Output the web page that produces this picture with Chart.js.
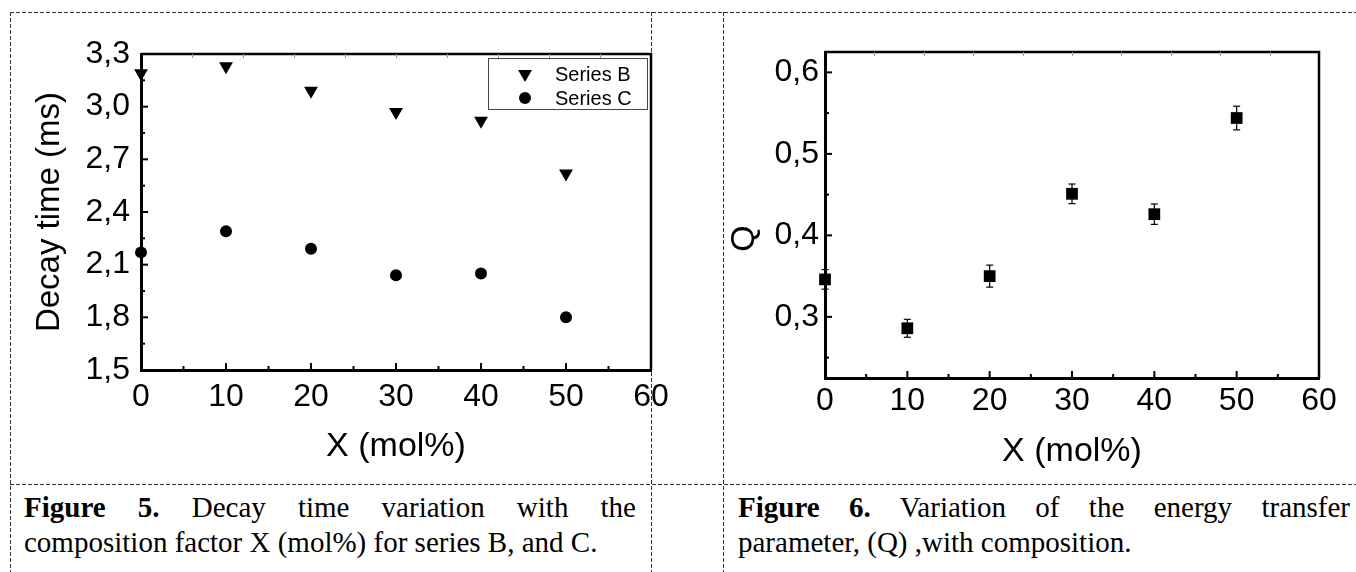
<!DOCTYPE html>
<html><head><meta charset="utf-8">
<script src="https://cdn.jsdelivr.net/npm/chart.js@4"></script>
<style>
body{margin:0;background:#fff;width:1356px;height:572px;overflow:hidden;position:relative;}
.h,.v{position:absolute;z-index:0;}
.h{height:1px;background:repeating-linear-gradient(to right,#333 0 4px,transparent 4px 6px);}
.v{width:1px;background:repeating-linear-gradient(to bottom,#333 0 4px,transparent 4px 6px);}
canvas{position:absolute;top:0;z-index:1;}
.cap{position:absolute;font-family:"Liberation Serif","Times New Roman",serif;font-size:29px;line-height:35px;color:#000;z-index:2;}
.cap .l1{text-align:justify;text-align-last:justify;}
</style></head><body>
<div class="h" style="left:10px;top:12px;width:1346px"></div>
<div class="h" style="left:10px;top:484px;width:1346px"></div>
<div class="v" style="left:10px;top:12px;height:560px"></div>
<div class="v" style="left:651px;top:12px;height:560px"></div>
<div class="v" style="left:723px;top:12px;height:560px"></div>
<canvas id="c1" width="720" height="480" style="left:0"></canvas>
<canvas id="c2" width="633" height="480" style="left:723px"></canvas>
<div class="cap" style="left:24px;top:490px;width:612px"><div class="l1"><b>Figure 5.</b> Decay time variation with the</div><div>composition factor X (mol%) for series B, and C.</div></div>
<div class="cap" style="left:738px;top:490px;width:612px"><div class="l1"><b>Figure 6.</b> Variation of the energy transfer</div><div>parameter, (Q) ,with composition.</div></div>
<script>
// ---- data ----
const xValues = [0, 10, 20, 30, 40, 50];
const seriesB = [3.19, 3.23, 3.09, 2.97, 2.92, 2.62];
const seriesC = [2.17, 2.29, 2.19, 2.04, 2.05, 1.80];
const qValues = [0.346, 0.286, 0.350, 0.451, 0.426, 0.544];
const qErrors = [0.012, 0.011, 0.0135, 0.012, 0.0125, 0.0145];
const xTicks = [0, 10, 20, 30, 40, 50, 60];
const yTicksLeft = [1.5, 1.8, 2.1, 2.4, 2.7, 3.0, 3.3];
const yTicksRight = [0.3, 0.4, 0.5, 0.6];
const topTicks = [6, 12, 18, 24, 30, 36, 42, 48, 54];

const SANS = "'Liberation Sans', Arial, sans-serif";
const comma = v => Number(v).toFixed(1).replace('.', ',');
const pts = (ys) => xValues.map((x, i) => ({x, y: ys[i]}));

function minorsOf(list, min, max) {
  const step = list[1] - list[0];
  const out = [];
  list.forEach(v => {
    [v - step / 2, v + step / 2].forEach(m => {
      if (m > min && m < max && !out.some(o => Math.abs(o - m) < 1e-9)) out.push(m);
    });
  });
  return out;
}

// frame, inward ticks, top-axis ticks, error bars
const framePlugin = {
  id: 'frameTicks',
  beforeDatasetsDraw(chart, args, o) {
    const {ctx, chartArea: a, scales: {x, y}} = chart;
    const line = (x1, y1, x2, y2) => { ctx.beginPath(); ctx.moveTo(x1, y1); ctx.lineTo(x2, y2); ctx.stroke(); };
    ctx.save();
    ctx.strokeStyle = '#000';
    ctx.lineWidth = 2.5;
    ctx.beginPath(); ctx.moveTo(a.left, a.top); ctx.lineTo(a.right, a.top); ctx.lineTo(a.right, a.bottom); ctx.stroke();
    ctx.lineWidth = 2;
    const xs = x.ticks.map(t => t.value), ys = y.ticks.map(t => t.value);
    xs.forEach(v => { const p = x.getPixelForValue(v); line(p, a.bottom, p, a.bottom - 7); });
    minorsOf(xs, x.min, x.max).forEach(v => { const p = x.getPixelForValue(v); line(p, a.bottom, p, a.bottom - 4); });
    ys.forEach(v => { const p = y.getPixelForValue(v); line(a.left, p, a.left + 7, p); });
    minorsOf(ys, y.min, y.max).forEach(v => { const p = y.getPixelForValue(v); line(a.left, p, a.left + 4, p); });
    ctx.strokeStyle = '#999'; ctx.lineWidth = 1;
    topTicks.forEach(v => { const p = Math.round(x.getPixelForValue(v)) + 0.5; line(p, a.top, p, a.top + 4); });
    // error bars
    ctx.strokeStyle = '#000'; ctx.lineWidth = 1.2;
    chart.data.datasets.forEach((ds, i) => {
      if (!ds.errorBars) return;
      const meta = chart.getDatasetMeta(i);
      meta.data.forEach((el, j) => {
        const v = ds.data[j].y, e = ds.errorBars[j];
        const px = el.x, t = y.getPixelForValue(v + e), b = y.getPixelForValue(v - e);
        line(px, t, px, b);
        line(px - 3.5, t, px + 3.5, t);
        line(px - 3.5, b, px + 3.5, b);
      });
    });
    ctx.restore();
  }
};

// boxed legend inside the plot, top right
const boxLegend = {
  id: 'boxLegend',
  afterDatasetsDraw(chart, args, o) {
    if (!o || !o.show) return;
    const {ctx, chartArea: a} = chart;
    const w = 159, h = 51, left = a.right - 4 - w, top = a.top + 4;
    ctx.save();
    ctx.fillStyle = '#fff';
    ctx.fillRect(left, top, w, h);
    ctx.strokeStyle = '#444'; ctx.lineWidth = 1;
    ctx.strokeRect(Math.round(left) + 0.5, Math.round(top) + 0.5, w, h);
    chart.data.datasets.forEach((ds, i) => {
      const cy = top + 16 + i * 24;
      ctx.fillStyle = ds.backgroundColor; ctx.strokeStyle = ds.borderColor;
      Chart.helpers.drawPoint(ctx, {pointStyle: ds.pointStyle, rotation: ds.pointRotation || 0, radius: ds.pointRadius, borderWidth: 0}, left + 37, cy);
      ctx.fillStyle = '#000';
      ctx.font = '20px ' + SANS;
      ctx.textBaseline = 'middle'; ctx.textAlign = 'left';
      ctx.fillText(ds.label, left + 67, cy + 1);
    });
    ctx.restore();
  }
};

function axisX(pad, titlePad, h) {
  return {
    type: 'linear', min: 0, max: 60,
    afterBuildTicks: s => { s.ticks = xTicks.map(v => ({value: v})); },
    afterFit: s => { s.height = h; s.paddingLeft = 0; s.paddingRight = 0; },
    ticks: {font: {family: SANS, size: 32}, color: '#000', padding: pad, autoSkip: false, maxRotation: 0, callback: v => String(v)},
    grid: {display: true, drawOnChartArea: false, drawTicks: false},
    border: {display: true, width: 3, color: '#000'},
    title: {display: true, text: 'X (mol%)', color: '#000', font: {family: SANS, size: 34}, padding: {top: 0, bottom: titlePad}}
  };
}

Chart.defaults.animation = false;

new Chart(document.getElementById('c1'), {
  type: 'scatter',
  data: {
    datasets: [
      {label: 'Series B', data: pts(seriesB), pointStyle: 'triangle', pointRotation: 180, pointRadius: 8, pointBorderWidth: 0, backgroundColor: '#000', borderColor: '#000', showLine: false, clip: false},
      {label: 'Series C', data: pts(seriesC), pointStyle: 'circle', pointRadius: 6, pointBorderWidth: 0, backgroundColor: '#000', borderColor: '#000', showLine: false, clip: false}
    ]
  },
  plugins: [framePlugin, boxLegend],
  options: {
    responsive: false, devicePixelRatio: 1, events: [],
    layout: {padding: {left: 0, top: 54, right: 69, bottom: 0}},
    plugins: {legend: {display: false}, tooltip: {enabled: false}, boxLegend: {show: true}},
    scales: {
      x: axisX(8, 13, 110),
      y: {
        type: 'linear', min: 1.5, max: 3.3,
        afterBuildTicks: s => { s.ticks = yTicksLeft.map(v => ({value: v})); },
        afterFit: s => { s.width = 141; s.paddingTop = 0; s.paddingBottom = 0; },
        ticks: {font: {family: SANS, size: 32}, color: '#000', padding: 11, autoSkip: false, callback: comma},
        grid: {display: true, drawOnChartArea: false, drawTicks: false},
        border: {display: true, width: 3, color: '#000'},
        title: {display: true, text: 'Decay time (ms)', color: '#000', font: {family: SANS, size: 33}, padding: {top: 30, bottom: 0}}
      }
    }
  }
});

new Chart(document.getElementById('c2'), {
  type: 'scatter',
  data: {
    datasets: [
      {label: 'Q', data: pts(qValues), errorBars: qErrors, pointStyle: 'rect', pointRadius: 8.3, pointBorderWidth: 0, backgroundColor: '#000', borderColor: '#000', showLine: false, clip: false}
    ]
  },
  plugins: [framePlugin],
  options: {
    responsive: false, devicePixelRatio: 1, events: [],
    layout: {padding: {left: 0, top: 52, right: 37, bottom: 0}},
    plugins: {legend: {display: false}, tooltip: {enabled: false}},
    scales: {
      x: axisX(4, 8, 102),
      y: {
        type: 'linear', min: 0.225, max: 0.625,
        afterBuildTicks: s => { s.ticks = yTicksRight.map(v => ({value: v})); },
        afterFit: s => { s.width = 102; s.paddingTop = 0; s.paddingBottom = 0; },
        ticks: {font: {family: SANS, size: 32}, color: '#000', padding: 6, autoSkip: false, callback: comma},
        grid: {display: true, drawOnChartArea: false, drawTicks: false},
        border: {display: true, width: 3, color: '#000'},
        title: {display: true, text: 'Q     ', color: '#000', font: {family: SANS, size: 34}, padding: {top: 1, bottom: 0}}
      }
    }
  }
});
</script>
</body></html>
